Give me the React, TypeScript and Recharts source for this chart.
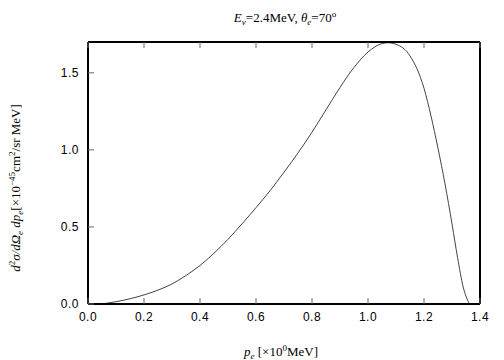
import { LineChart, Line, XAxis, YAxis, Label } from 'recharts';

// electron momentum p_e [MeV]
const pe = [
  0.05, 0.1, 0.15, 0.2, 0.25, 0.3, 0.35, 0.4, 0.45, 0.5, 0.55, 0.6, 0.65, 0.7,
  0.75, 0.8, 0.85, 0.9, 0.95, 1.0, 1.05, 1.07, 1.1, 1.15, 1.2, 1.225, 1.25,
  1.275, 1.3, 1.32, 1.34, 1.362,
];
// d2sigma / dOmega dp [1e-45 cm2/sr MeV]
const xsec = [
  0, 0.015, 0.034, 0.059, 0.09, 0.13, 0.185, 0.25, 0.33, 0.42, 0.52, 0.625,
  0.735, 0.855, 0.98, 1.115, 1.26, 1.405, 1.535, 1.635, 1.69, 1.695, 1.685,
  1.61, 1.4, 1.22, 1.01, 0.78, 0.52, 0.3, 0.11, 0,
];
const xTicks = [0, 0.2, 0.4, 0.6, 0.8, 1.0, 1.2, 1.4];
const yTicks = [0, 0.5, 1.0, 1.5];

const data = pe.map((p, i) => ({ p, v: xsec[i] }));

const tickFont = { fontFamily: '"Liberation Sans", Arial, sans-serif', fontSize: 12, letterSpacing: 0.5 };
const serif = '"Liberation Serif", "Times New Roman", serif';

const BottomTick = ({ x, y, payload }: any) => (
  <g>
    <line x1={x} x2={x} y1={y} y2={y - 6} stroke="#666" />
    <text x={x} y={y + 17} textAnchor="middle" fill="#000" {...tickFont}>
      {Number(payload.value).toFixed(1)}
    </text>
  </g>
);
const TopTick = ({ x, y }: any) => <line x1={x} x2={x} y1={y} y2={y + 6} stroke="#666" />;
const LeftTick = ({ x, y, payload }: any) => (
  <g>
    <line x1={x} x2={x + 6} y1={y} y2={y} stroke="#666" />
    <text x={x - 9} y={y + 4} textAnchor="end" fill="#000" {...tickFont}>
      {Number(payload.value).toFixed(1)}
    </text>
  </g>
);
const RightTick = ({ x, y }: any) => <line x1={x} x2={x - 6} y1={y} y2={y} stroke="#666" />;

const Title = () => (
  <text x={285} y={22} textAnchor="middle" fontFamily={serif} fontSize={13} fill="#000">
    <tspan fontStyle="italic">E</tspan>
    <tspan fontStyle="italic" fontSize={9} dy={3}>ν</tspan>
    <tspan dy={-3}>=2.4MeV,  </tspan>
    <tspan fontStyle="italic">θ</tspan>
    <tspan fontStyle="italic" fontSize={9} dy={3}>e</tspan>
    <tspan dy={-3}>=70</tspan>
    <tspan fontSize={9} dy={-5}>o</tspan>
  </text>
);

const XTitle = () => (
  <text x={281} y={356} textAnchor="middle" fontFamily={serif} fontSize={13} fill="#000">
    <tspan fontStyle="italic">p</tspan>
    <tspan fontStyle="italic" fontSize={9} dy={3}>e</tspan>
    <tspan dy={-3}> [×10</tspan>
    <tspan fontSize={9} dy={-5}>0</tspan>
    <tspan dy={5}>MeV]</tspan>
  </text>
);

const YTitle = () => (
  <text
    x={0}
    y={0}
    transform="translate(20,188) rotate(-90)"
    textAnchor="middle"
    fontFamily={serif}
    fontSize={13}
    fill="#000"
  >
    <tspan fontStyle="italic">d</tspan>
    <tspan fontSize={9} dy={-5}>2</tspan>
    <tspan fontStyle="italic" dy={5}>σ/dΩ</tspan>
    <tspan fontStyle="italic" fontSize={9} dy={3}>e</tspan>
    <tspan fontStyle="italic" dy={-3}> dp</tspan>
    <tspan fontStyle="italic" fontSize={9} dy={3}>e</tspan>
    <tspan dy={-3}>[×10</tspan>
    <tspan fontSize={9} dy={-5}>−45</tspan>
    <tspan dy={5}>cm</tspan>
    <tspan fontSize={9} dy={-5}>2</tspan>
    <tspan dy={5}>/sr MeV]</tspan>
  </text>
);

export default function App() {
  return (
    <div style={{ position: 'absolute', left: 0, top: 0, width: 504, height: 360, background: '#fff' }}>
      <LineChart width={504} height={360} data={data} margin={{ top: 41, right: 23, bottom: 26, left: 0 }}>
        <XAxis
          dataKey="p"
          type="number"
          domain={[0, 1.4]}
          ticks={xTicks}
          height={30}
          tickSize={0}
          tickMargin={0}
          tickLine={false}
          axisLine={{ stroke: '#000', strokeWidth: 2 }}
          tick={<BottomTick />}
        >
          <Label content={<XTitle />} />
        </XAxis>
        <XAxis
          xAxisId="top"
          orientation="top"
          dataKey="p"
          type="number"
          domain={[0, 1.4]}
          ticks={xTicks}
          height={1}
          tickSize={0}
          tickMargin={0}
          tickLine={false}
          axisLine={{ stroke: '#000', strokeWidth: 2 }}
          tick={<TopTick />}
        >
          <Label content={<Title />} />
        </XAxis>
        <YAxis
          type="number"
          domain={[0, 1.7]}
          ticks={yTicks}
          width={88}
          tickSize={0}
          tickMargin={0}
          tickLine={false}
          axisLine={{ stroke: '#000', strokeWidth: 2 }}
          tick={<LeftTick />}
        >
          <Label content={<YTitle />} />
        </YAxis>
        <YAxis
          yAxisId="right"
          orientation="right"
          type="number"
          domain={[0, 1.7]}
          ticks={yTicks}
          width={1}
          tickSize={0}
          tickMargin={0}
          tickLine={false}
          axisLine={{ stroke: '#000', strokeWidth: 2 }}
          tick={<RightTick />}
        />
        <Line
          type="monotone"
          dataKey="v"
          stroke="#444"
          strokeWidth={1}
          dot={false}
          isAnimationActive={false}
        />
      </LineChart>
    </div>
  );
}
